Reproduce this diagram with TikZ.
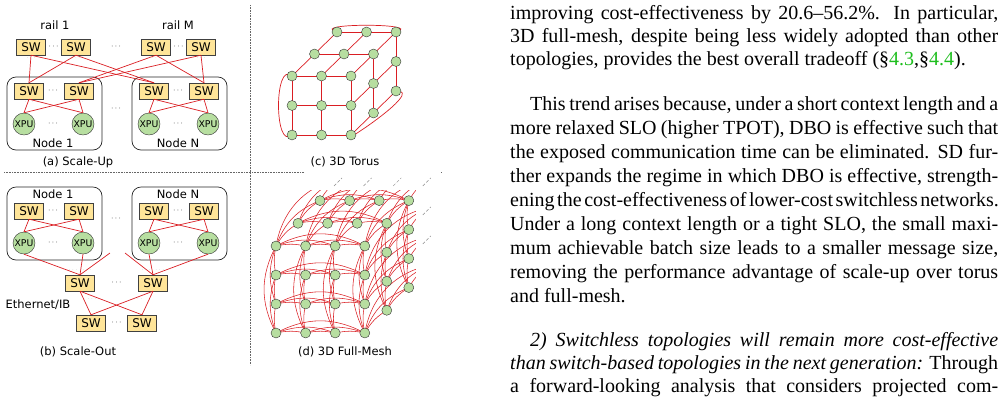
\documentclass[tikz,border=0pt]{standalone}
\usepackage{fontspec}
\usetikzlibrary{calc}
\newfontfamily\dv{DejaVu Sans}
\newfontfamily\tm{Liberation Serif}
\begin{document}
\definecolor{swy}{RGB}{255,229,153}
\definecolor{xg}{RGB}{183,222,160}
\definecolor{lred}{RGB}{218,30,35}
\definecolor{lgreen}{RGB}{30,190,30}
\newcommand\jline[4]{\node[tx] at (#1,#2) {\spaceskip=0.25em plus 0.3em minus 0.12em\relax\hbox to #3pt{#4}};}
\newcommand\nline[3]{\node[tx] at (#1,#2) {#3};}
\begin{tikzpicture}[x=1pt,y=-1pt,
  sw/.style={draw=black!75, fill=swy, minimum width=29pt, minimum height=16pt, inner sep=0, font=\dv\fontsize{12}{13}\selectfont},
  xpu/.style={circle, draw=black!80, fill=xg, minimum size=22pt, inner sep=0, font=\dv\fontsize{9.3}{10}\selectfont},
  nd/.style={circle, draw=black!80, fill=xg, minimum size=10pt, inner sep=0},
  link/.style={draw=lred, line width=0.7pt},
  box/.style={draw=black!85, rounded corners=9pt, line width=0.7pt},
  lab/.style={font=\dv\fontsize{11.5}{13}\selectfont, inner sep=0},
  dts/.style={font=\dv\fontsize{8}{9}\selectfont, inner sep=0},
  gd/.style={font=\dv\fontsize{5}{6}\selectfont, text=black!40, inner sep=0},
  sep/.style={draw=black!60, densely dotted, line width=0.6pt},
  tx/.style={anchor=base west, inner sep=0, font=\tm\fontsize{20}{22}\selectfont}]
\useasboundingbox (0,0) rectangle (1001,408);
% separators
\coordinate (s1) at (250,5); \coordinate (s2) at (250,365);
\coordinate (s3) at (4,172); \coordinate (s4) at (442,172);
\draw[sep] (s1) -- (s2); \draw[sep] (s3) -- (s4);

% ---------- (a) Scale-Up ----------
\node[lab] (r1) at (55,25) {rail 1};
\node[lab] (rm) at (178,25) {rail M};
\node[sw] (t1) at (31,47) {SW}; \node[sw] (t2) at (76,47) {SW};
\node[sw] (t3) at (156,47) {SW}; \node[sw] (t4) at (201,47) {SW};
\node[dts] (d1) at (53.5,47) {$\cdots$}; \node[dts] (d2) at (116,47) {$\cdots$}; \node[dts] (d3) at (178.5,47) {$\cdots$};
\node[box, minimum width=95pt, minimum height=73pt] (n1) at (54.5,113.5) {};
\node[box, minimum width=95pt, minimum height=73pt] (nn) at (179.5,113.5) {};
\node[sw] (a1) at (29,91) {SW}; \node[sw] (a2) at (79,91) {SW};
\node[sw] (a3) at (154,91) {SW}; \node[sw] (a4) at (204,91) {SW};
\node[xpu] (x1) at (24,124) {XPU}; \node[xpu] (x2) at (83,124) {XPU};
\node[xpu] (x3) at (149,124) {XPU}; \node[xpu] (x4) at (208,124) {XPU};
\node[dts] (d4) at (53,91) {$\cdots$}; \node[dts] (d5) at (178,91) {$\cdots$};
\node[dts] (d6) at (53,124) {$\cdots$}; \node[dts] (d7) at (178,124) {$\cdots$};
\node[dts] (d8) at (116,109) {$\cdots$};
\node[lab] (nl1) at (53,143) {Node 1}; \node[lab] (nln) at (178,143) {Node N};
\node[lab] (ca) at (78,162) {(a) Scale-Up};
\foreach \s in {t1,t2,t3,t4,a1,a2,a3,a4} \node[gd] at ([yshift=-3pt]\s.south) {$\cdots$};
\foreach \s in {t1,t2} {\draw[link] (\s.south) -- (a1.north); \draw[link] (\s.south) -- (a3.north);}
\foreach \s in {t3,t4} {\draw[link] (\s.south) -- (a2.north); \draw[link] (\s.south) -- (a4.north);}
\foreach \s/\p/\q in {a1/x1/x2,a2/x1/x2,a3/x3/x4,a4/x3/x4} {\draw[link] (\s.south) -- (\p.north); \draw[link] (\s.south) -- (\q.north);}

% ---------- (b) Scale-Out ----------
\node[box, minimum width=95pt, minimum height=73pt] (m1) at (54.5,223.5) {};
\node[box, minimum width=95pt, minimum height=73pt] (mn) at (179.5,223.5) {};
\node[lab] (ml1) at (53,194) {Node 1}; \node[lab] (mln) at (178,194) {Node N};
\node[sw] (b1) at (29,211) {SW}; \node[sw] (b2) at (79,211) {SW};
\node[sw] (b3) at (154,211) {SW}; \node[sw] (b4) at (204,211) {SW};
\node[xpu] (y1) at (24,243) {XPU}; \node[xpu] (y2) at (83,243) {XPU};
\node[xpu] (y3) at (149,243) {XPU}; \node[xpu] (y4) at (208,243) {XPU};
\node[dts] (e1) at (53,211) {$\cdots$}; \node[dts] (e2) at (178,211) {$\cdots$};
\node[dts] (e3) at (53,243) {$\cdots$}; \node[dts] (e4) at (178,243) {$\cdots$};
\node[dts] (e5) at (116,219) {$\cdots$};
\node[sw] (l1) at (80,283) {SW}; \node[sw] (l2) at (153,283) {SW};
\node[dts] (e6) at (116.5,283) {$\cdots$};
\node[sw] (u1) at (91,323) {SW}; \node[sw] (u2) at (142,323) {SW};
\node[dts] (e7) at (116.5,323) {$\cdots$};
\node[lab] (eth) at (38,305) {Ethernet/IB};
\node[lab] (cb) at (78,352) {(b) Scale-Out};
\foreach \s/\p/\q in {b1/y1/y2,b2/y1/y2,b3/y3/y4,b4/y3/y4} {\draw[link] (\s.south) -- (\p.north); \draw[link] (\s.south) -- (\q.north);}
\coordinate (f1) at (110,253); \coordinate (f2) at (125,253);
\draw[link] (y1.south) -- (l1.north); \draw[link] (y2.south) -- (l1.north); \draw[link] (f1) -- (l1.north);
\draw[link] (y3.south) -- (l2.north); \draw[link] (y4.south) -- (l2.north); \draw[link] (f2) -- (l2.north);
\foreach \s in {l1,l2} {\draw[link] (\s.south) -- (u1.north); \draw[link] (\s.south) -- (u2.north);}
\node[gd] at (80,270) {$\cdots\ \ \cdots$}; \node[gd] at (153,270) {$\cdots\ \ \cdots$};
\node[gd] at (92,299) {$\cdots$}; \node[gd] at (138,299) {$\cdots$};

% ---------- (c) 3D Torus ----------
\foreach \i in {0,1,2} \foreach \j in {0,1,2} \foreach \k in {0,1,2} {
  \coordinate (t-\i-\j-\k) at ({292+29.5*\i+22.5*\k},{76+29.5*\j-22*\k});}
\foreach \i in {0,1,2} \foreach \j in {0,1,2} \foreach \k in {0,1,2} {
  \pgfmathtruncatemacro\ok{(\k==0)||(\j==0)||(\i==2)}
  \ifnum\ok=1
    \pgfmathtruncatemacro\ii{\i+1}\pgfmathtruncatemacro\jj{\j+1}\pgfmathtruncatemacro\kk{\k+1}
    \ifnum\i<2 \pgfmathtruncatemacro\okb{(\k==0)||(\j==0)} \ifnum\okb=1 \draw[link] (t-\i-\j-\k) -- (t-\ii-\j-\k); \fi\fi
    \ifnum\j<2 \pgfmathtruncatemacro\okb{(\k==0)||(\i==2)} \ifnum\okb=1 \draw[link] (t-\i-\j-\k) -- (t-\i-\jj-\k); \fi\fi
    \ifnum\k<2 \pgfmathtruncatemacro\okb{(\j==0)||(\i==2)} \ifnum\okb=1 \draw[link] (t-\i-\j-\k) -- (t-\i-\j-\kk); \fi\fi
  \fi}
\draw[link] (t-0-0-0) .. controls +(-18,-16) and +(-18,16) .. (t-0-2-0);
\draw[link] (t-0-0-2) .. controls +(-30,-9) and +(30,-9) .. (t-2-0-2);
\draw[link] (t-2-2-0) .. controls +(-22,18) and +(32,-2) .. (t-2-2-2);
\foreach \i in {0,1,2} \foreach \j in {0,1,2} \foreach \k in {0,1,2} {
  \pgfmathtruncatemacro\ok{(\k==0)||(\j==0)||(\i==2)}
  \ifnum\ok=1 \node[nd] (tn-\i-\j-\k) at (t-\i-\j-\k) {}; \fi}
\node[lab] (cc) at (345,162) {(c) 3D Torus};

% ---------- (d) 3D Full-Mesh ----------
\foreach \i in {0,...,3} \foreach \j in {0,...,3} \foreach \k in {0,...,3} {
  \coordinate (m-\i-\j-\k) at ({276+29.6*\i+22*\k},{246+29*\j-22.7*\k});}
% rows
\foreach \j in {0,...,3} \foreach \k in {0,1,2} {
  \pgfmathtruncatemacro\ok{(\k==0)||(\j==0)}
  \ifnum\ok=1
  \foreach \a in {0,1,2} {\pgfmathtruncatemacro\an{\a+1}
    \foreach \b in {\an,...,3} {\pgfmathtruncatemacro\bd{8*(\b-\a)+4}
      \draw[link, line width=0.55pt] (m-\a-\j-\k) to[bend left=\bd] (m-\b-\j-\k);}}
  \fi}
% columns
\foreach \i in {0,...,3} \foreach \k in {0,1,2} {
  \pgfmathtruncatemacro\ok{(\k==0)||(\i==3)}
  \ifnum\ok=1
  \foreach \a in {0,1,2} {\pgfmathtruncatemacro\an{\a+1}
    \foreach \b in {\an,...,3} {\pgfmathtruncatemacro\bd{8*(\b-\a)+4}
      \draw[link, line width=0.55pt] (m-\i-\a-\k) to[bend right=\bd] (m-\i-\b-\k);}}
  \fi}
% depth
\foreach \i in {0,...,3} \foreach \j in {0,...,3} {
  \pgfmathtruncatemacro\ok{(\j==0)||(\i==3)}
  \ifnum\ok=1
  \foreach \a in {0,1,2} {\pgfmathtruncatemacro\an{\a+1}
    \foreach \b in {\an,...,3} {\pgfmathtruncatemacro\bd{10*(\b-\a)+4}
      \draw[link, line width=0.55pt] (m-\i-\j-\a) to[bend left=\bd] (m-\i-\j-\b);}}
  \fi}
\foreach \i in {0,...,3} \foreach \j in {0,...,3} \foreach \k in {0,1,2} {
  \pgfmathtruncatemacro\ok{(\k==0)||(\j==0)||(\i==3)}
  \ifnum\ok=1 \node[nd] (mn-\i-\j-\k) at (m-\i-\j-\k) {}; \fi}
% continuation marks
\fill[white] (305,172) rectangle (440,190);
\fill[white] (416,190) rectangle (440,300);
\foreach \i/\j in {0/0,1/0,2/0,3/0,3/1,3/2} {
  \coordinate (q-\i-\j) at ($(m-\i-\j-3)+(-4,4)$);
  \draw[black!45, densely dashed, line width=0.5pt] ([shift={(-4,4)}]q-\i-\j) -- ([shift={(4,-4)}]q-\i-\j);}
\node[lab] (cd) at (345,352) {(d) 3D Full-Mesh};

% ---------- body text ----------
\jline{510}{19}{488}{improving cost-effectiveness by 20.6–56.2\%. In particular,}
\jline{510}{42}{488}{3D full-mesh, despite being less widely adopted than other}
\nline{510}{65}{topologies, provides the best overall tradeoff (\S\textcolor{lgreen}{4.3},\S\textcolor{lgreen}{4.4}).}
\jline{530}{110}{468}{This trend arises because, under a short context length and a}
\jline{510}{134}{488}{more relaxed SLO (higher TPOT), DBO is effective such that}
\jline{510}{158}{488}{the exposed communication time can be eliminated. SD fur-}
\jline{510}{182}{488}{ther expands the regime in which DBO is effective, strength-}
\jline{510}{206}{488}{ening the cost-effectiveness of lower-cost switchless networks.}
\jline{510}{230}{488}{Under a long context length or a tight SLO, the small maxi-}
\jline{510}{254}{488}{mum achievable batch size leads to a smaller message size,}
\jline{510}{278}{488}{removing the performance advantage of scale-up over torus}
\nline{510}{302}{and full-mesh.}
\jline{530}{346}{468}{\itshape 2) Switchless topologies will remain more cost-effective}
\jline{510}{369}{488}{\itshape than switch-based topologies in the next generation:\upshape{} Through}
\jline{510}{392}{488}{a forward-looking analysis that considers projected com-}
\end{tikzpicture}
\end{document}
